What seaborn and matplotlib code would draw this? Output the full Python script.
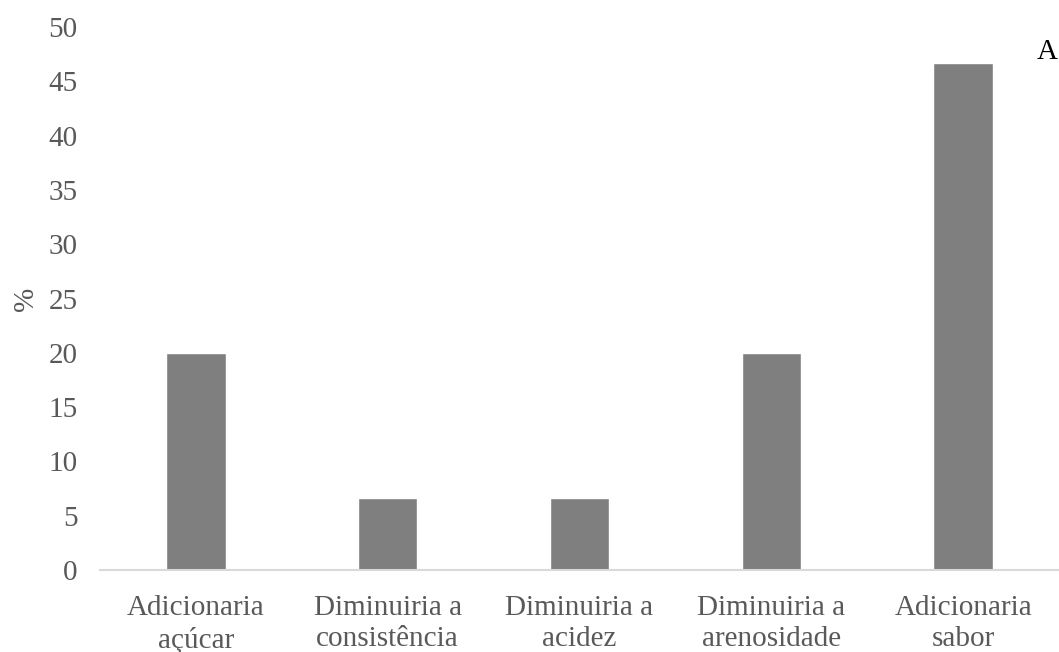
import matplotlib
matplotlib.use("Agg")
import matplotlib.pyplot as plt
import seaborn as sns
import pandas as pd

categories = ["Adicionaria\naçúcar", "Diminuiria a\nconsistência", "Diminuiria a\nacidez",
              "Diminuiria a\narenosidade", "Adicionaria\nsabor"]
values = [20.0, 6.67, 6.67, 20.0, 46.67]
yticks = [0, 5, 10, 15, 20, 25, 30, 35, 40, 45, 50]

sns.set_theme(style="white")
plt.rcParams['font.family'] = ['Liberation Serif', 'DejaVu Serif']

df = pd.DataFrame({"cat": categories, "val": values})

fig = plt.figure(figsize=(10.59, 6.52), dpi=100)
ax = fig.add_axes([100/1059, 82/652, 959/1059, 543/652])
sns.barplot(data=df, x="cat", y="val", color="#7f7f7f", saturation=1, width=0.31, ax=ax)

ax.set_ylim(0, 50)
ax.set_xlim(-0.5, 4.5)
ax.set_yticks(yticks)
ax.set_yticklabels([str(t) for t in yticks])
for s in ["top", "right", "left"]:
    ax.spines[s].set_visible(False)
ax.spines["bottom"].set_color("#d9d9d9")
ax.spines["bottom"].set_linewidth(1.5)
ax.tick_params(axis="both", length=0, labelsize=21, colors="#595959")
ax.tick_params(axis="y", pad=16)
ax.tick_params(axis="x", pad=18)
for lab in ax.get_xticklabels():
    lab.set_linespacing(1.27)
ax.set_xlabel("")
ax.set_ylabel("%", fontsize=21, color="#595959", labelpad=7)
fig.text(1037/1059, 1 - 52/652, "A", fontsize=21, color="black", ha="left", va="center")

fig.savefig("out.png", dpi=100)
